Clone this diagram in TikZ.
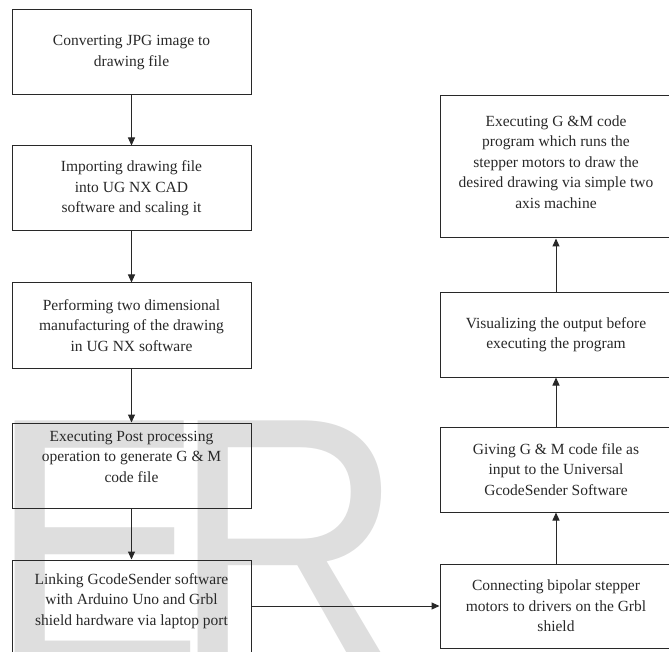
\documentclass[tikz,border=0pt]{standalone}
\usepackage{fontspec}
\setmainfont{Liberation Serif}
\newfontfamily\markfont{Liberation Sans}
\usetikzlibrary{arrows.meta, positioning}
\definecolor{LineGray}{RGB}{40, 40, 40}
\definecolor{MarkGray}{RGB}{222, 222, 222}

\begin{document}
\begin{tikzpicture}[
    x=1pt, y=-1pt,
    node distance=50pt,
    block/.style={rectangle, draw=LineGray, line width=1pt, minimum width=239pt, minimum height=85pt, inner sep=0pt, align=center, text=LineGray, font=\fontsize{15.5}{20.5}\selectfont},
    sideblock/.style={block, minimum width=232pt},
    wmark/.style={inner sep=0pt, xscale=0.9, text=MarkGray, font=\markfont\fontsize{360}{360}\selectfont},
    arrow/.style={-{Triangle[length=8pt, width=7pt]}, draw=LineGray, line width=1pt}
]
    \path [use as bounding box, clip] (0,0) rectangle (669,652);

    % Watermark behind the boxes
    \node (wmE) [wmark, anchor=north west] at (-12,421) {E};
    \node (wmR) [wmark, anchor=north west] at (171,421) {R};

    % Left column
    \node (jpg) [block] at (131.5,52.5) {Converting JPG image to\\ drawing file};
    \node (import) [block, below=of jpg] {Importing drawing file\\ into UG NX CAD\\ software and scaling it};
    \node (manuf) [block, below=51pt of import] {Performing two dimensional\\ manufacturing of the drawing\\ in UG NX software};
    \node (post) [block, below=54pt of manuf, text depth=18pt] {Executing Post processing\\ operation to generate G \& M\\ code file};
    \node (link) [block, below=51pt of post, minimum height=98pt, text depth=19pt] {Linking GcodeSender software\\ with Arduino Uno and Grbl\\ shield hardware via laptop port};

    % Right column
    \node (motors) [sideblock, right=188pt of link, yshift=3pt, minimum height=84pt] {Connecting bipolar stepper\\ motors to drivers on the Grbl\\ shield};
    \node (gcode) [sideblock, above=51pt of motors] {Giving G \& M code file as\\ input to the Universal\\ GcodeSender Software};
    \node (visual) [sideblock, above=49pt of gcode] {Visualizing the output before\\ executing the program};
    \node (run) [sideblock, above=53pt of visual, minimum height=142pt, text depth=10pt] {Executing G \&M code\\ program which runs the\\ stepper motors to draw the\\ desired drawing via simple two\\ axis machine};

    % Arrows
    \draw [arrow] (jpg) -- (import);
    \draw [arrow] (import) -- (manuf);
    \draw [arrow] (manuf) -- (post);
    \draw [arrow] (post) -- (link);
    \draw [arrow] (link.east |- motors.west) -- (motors.west);
    \draw [arrow] (motors) -- (gcode);
    \draw [arrow] (gcode) -- (visual);
    \draw [arrow] (visual) -- (run);
\end{tikzpicture}
\end{document}
